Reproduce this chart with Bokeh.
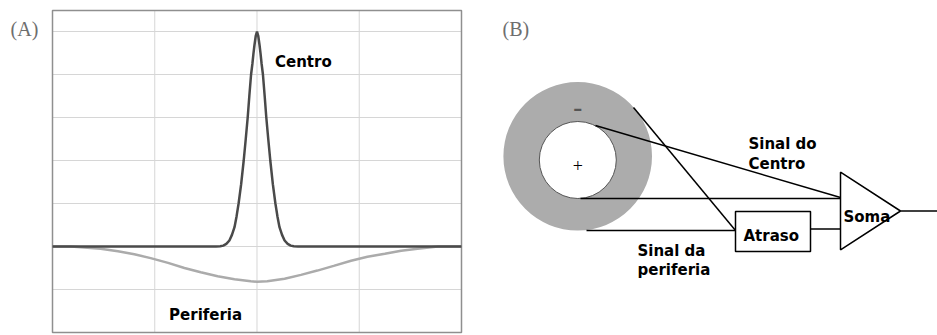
from bokeh.plotting import figure
from bokeh.layouts import row
from bokeh.models import Range1d
from bokeh.core.properties import value
from bokeh.embed import file_html
from bokeh.resources import INLINE

# ---------------- Panel A : receptive-field profiles ----------------
centro_x = [-2.0, -0.40, -0.36, -0.33, -0.30, -0.27, -0.245, -0.22, -0.20, -0.18,
            -0.155, -0.13, -0.11, -0.091, -0.075, -0.058, -0.045, -0.035, -0.025,
            -0.012, 0.0, 0.012, 0.025, 0.035, 0.045, 0.058, 0.075, 0.091, 0.11,
            0.13, 0.155, 0.18, 0.20, 0.22, 0.245, 0.27, 0.30, 0.33, 0.36, 0.40, 2.0]
centro_y = [0.0, 0.0, 0.005, 0.02, 0.06, 0.14, 0.27, 0.45, 0.70, 1.0,
            1.45, 2.0, 2.5, 3.0, 3.5, 4.0, 4.25, 4.48, 4.68,
            4.90, 5.0, 4.90, 4.68, 4.48, 4.25, 4.0, 3.5, 3.0, 2.5,
            2.0, 1.45, 1.0, 0.70, 0.45, 0.27, 0.14, 0.06, 0.02, 0.005, 0.0, 0.0]

periferia_x = [-2.0, -1.82, -1.53, -1.36, -1.20, -1.04, -0.87, -0.71, -0.55, -0.385,
               -0.22, -0.06, 0.0, 0.10, 0.27, 0.43, 0.59, 0.75, 0.92, 1.08, 1.25,
               1.41, 1.57, 1.77, 2.0]
periferia_y = [0.0, 0.0, -0.05, -0.11, -0.18, -0.27, -0.38, -0.50, -0.60, -0.69,
               -0.76, -0.81, -0.82, -0.81, -0.75, -0.66, -0.56, -0.45, -0.33, -0.24,
               -0.17, -0.10, -0.05, 0.0, 0.0]

x_grid = [-1, 0, 1]
y_grid = [-1, 0, 1, 2, 3, 4, 5]
box_x = (-2.0, 2.0)
box_y = (-2.0, 5.49)

BOLD = value("DejaVu Sans")

pa = figure(width=478, height=335, x_range=Range1d(-2.5086, 2.1663),
            y_range=Range1d(-2.0698, 5.7209),
            output_backend="svg", toolbar_location=None, min_border=0)
pa.axis.visible = False
pa.grid.visible = False
pa.outline_line_color = None
pa.background_fill_color = "white"

# grid lines and frame of the oscilloscope-like panel
pa.segment(x0=x_grid, y0=[box_y[0]] * len(x_grid), x1=x_grid, y1=[box_y[1]] * len(x_grid),
           line_color="#d6d6d6", line_width=1)
pa.segment(x0=[box_x[0]] * len(y_grid), y0=y_grid, x1=[box_x[1]] * len(y_grid), y1=y_grid,
           line_color="#d6d6d6", line_width=1)
pa.quad(left=[box_x[0]], right=[box_x[1]], bottom=[box_y[0]], top=[box_y[1]],
        fill_color=None, line_color="#8f8f8f", line_width=1.5)

pa.line(periferia_x, periferia_y, line_color="#ababab", line_width=2.5)
pa.line(centro_x, centro_y, line_color="#4a4a4a", line_width=2.5)

pa.text(x=[0.176, -0.86], y=[4.28, -1.60], text=["Centro", "Periferia"],
        text_font=BOLD, text_font_style="bold", text_font_size="15px",
        text_color="black", text_align="left", text_baseline="alphabetic")
pa.text(x=[-2.41], y=[5.06], text=["(A)"], text_font=value("Liberation Serif"),
        text_font_size="20px", text_color="#6e6e6e", text_align="left",
        text_baseline="alphabetic")

# ---------------- Panel B : diagram (pixel-like coordinates) ----------------
ring_center = (577.2, 155.8)
ring_radius = 74.3
hole_center = (577.3, 159.5)
hole_radius = 38.5

seg_x0 = [595, 580, 633, 586, 810, 900]
seg_y0 = [125, 198, 107, 230, 228.5, 210.5]
seg_x1 = [840, 840, 735, 735, 840, 937]
seg_y1 = [197, 198, 230, 230, 228.5, 210.5]

tri_x = [840, 840, 900]
tri_y = [171.7, 249.3, 210.5]

box = dict(left=735, right=810, top=211, bottom=251)

b_text_x = [748, 748, 843, 743, 637, 637]
b_text_y = [143, 163, 216.5, 235, 250, 269]
b_text = ["Sinal do", "Centro", "Soma", "Atraso", "Sinal da", "periferia"]

pb = figure(width=459, height=335, x_range=Range1d(478, 937), y_range=Range1d(335, 0),
            output_backend="svg", toolbar_location=None, min_border=0)
pb.axis.visible = False
pb.grid.visible = False
pb.outline_line_color = None

pb.circle(x=[ring_center[0]], y=[ring_center[1]], radius=ring_radius,
          fill_color="#acacac", line_color=None)
pb.circle(x=[hole_center[0]], y=[hole_center[1]], radius=hole_radius,
          fill_color="white", line_color="#555555", line_width=1)

pb.segment(x0=seg_x0, y0=seg_y0, x1=seg_x1, y1=seg_y1, line_color="black", line_width=1.5)
pb.patch(tri_x, tri_y, fill_color="white", line_color="black", line_width=1.5)
pb.quad(left=[box["left"]], right=[box["right"]], top=[box["top"]], bottom=[box["bottom"]],
        fill_color="white", line_color="black", line_width=1.5)

pb.text(x=b_text_x, y=b_text_y, text=b_text, text_font=BOLD, text_font_style="bold",
        text_font_size="15px", text_color="black", text_align="left",
        text_baseline="alphabetic")

pb.text(x=[577.3], y=[165], text=["+"], text_font=value("Liberation Serif"),
        text_font_size="18px", text_color="black", text_align="center",
        text_baseline="alphabetic")
pb.text(x=[577.3], y=[108], text=["\u2013"], text_font=BOLD, text_font_style="bold",
        text_font_size="18px", text_color="#555555", text_align="center",
        text_baseline="alphabetic")
pb.text(x=[502], y=[28], text=["(B)"], text_font=value("Liberation Serif"),
        text_font_size="20px", text_color="#6e6e6e", text_align="left",
        text_baseline="alphabetic")

layout = row(pa, pb)
open("out.html", "w").write(file_html(layout, INLINE))
